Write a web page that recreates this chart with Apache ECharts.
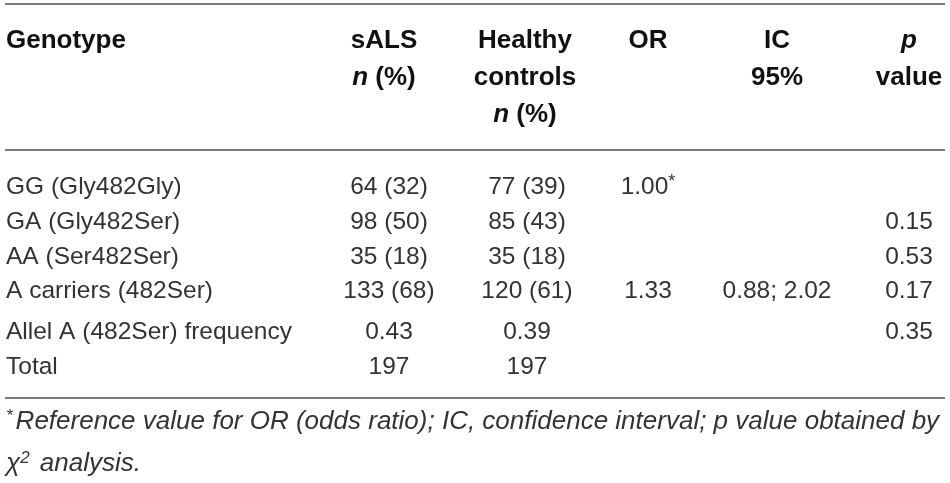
<!DOCTYPE html>
<html>
<head>
<meta charset="utf-8">
<script src="https://cdn.jsdelivr.net/npm/echarts@6/dist/echarts.min.js"></script>
<style>
  html, body { margin: 0; padding: 0; background: #fff; }
  #main { width: 950px; height: 483px; }
</style>
</head>
<body>
<div id="main"></div>
<script>
/**表格数据 */
const headers = [
  ['Genotype'],
  ['sALS', '{bi|n} (%)'],
  ['Healthy', 'controls', '{bi|n} (%)'],
  ['OR'],
  ['IC', '95%'],
  ['{bi|p}', 'value']
];
const genotypes = ['GG (Gly482Gly)', 'GA (Gly482Ser)', 'AA (Ser482Ser)', 'A carriers (482Ser)', 'Allel A (482Ser) frequency', 'Total'];
const salsValues = ['64 (32)', '98 (50)', '35 (18)', '133 (68)', '0.43', '197'];
const controlValues = ['77 (39)', '85 (43)', '35 (18)', '120 (61)', '0.39', '197'];
const orValues = ['1.00{sup|*}', '', '', '1.33', '', ''];
const icValues = ['', '', '', '0.88; 2.02', '', ''];
const pValues = ['', '0.15', '0.53', '0.17', '0.35', ''];
const footnotes = [
  '{sup|*}Reference value for OR (odds ratio); IC, confidence interval; p value obtained by',
  '\u03c7{sup|2} analysis.'
];

/**布局 */
const FONT = '"Liberation Sans", Arial, sans-serif';
const headX = [6, 384, 525, 648, 777, 909];  // 表头对齐位置
const colX = [6, 389, 527, 648, 777, 909];   // 表体对齐位置
const colAlign = ['left', 'center', 'center', 'center', 'center', 'center'];
const headY = [41, 78, 115];
const rowY = [187, 222, 257, 291, 332, 367];
const ruleY = [4, 150, 398];
const noteY = [422, 464];

let myChart = echarts.init(document.getElementById('main'), null, {renderer: 'canvas'});

const bodyRich = {
  sup: { fontSize: 18, fontFamily: FONT, fill: '#333', padding: [0, 0, 9, 0] }
};
const headRich = {
  bi: { fontSize: 26, fontWeight: 'bold', fontStyle: 'italic', fontFamily: FONT, fill: '#111' }
};

let graphic = [];

// 横线
ruleY.forEach(y => {
  graphic.push({
    type: 'line',
    shape: { x1: 5, y1: y, x2: 945, y2: y },
    style: { stroke: '#7b7b7b', lineWidth: 2 }
  });
});

// 表头
headers.forEach((lines, c) => {
  lines.forEach((txt, r) => {
    graphic.push({
      type: 'text',
      x: headX[c],
      y: headY[r],
      style: {
        text: txt,
        fontSize: 26,
        fontWeight: 'bold',
        fontFamily: FONT,
        fill: '#111',
        align: colAlign[c],
        verticalAlign: 'middle',
        rich: headRich
      }
    });
  });
});

// 表体
const columns = [genotypes, salsValues, controlValues, orValues, icValues, pValues];
columns.forEach((col, c) => {
  col.forEach((txt, r) => {
    if (!txt) return;
    graphic.push({
      type: 'text',
      x: colX[c],
      y: rowY[r],
      style: {
        text: txt,
        fontSize: 24.5,
        fontFamily: FONT,
        fill: '#333',
        align: colAlign[c],
        verticalAlign: 'middle',
        rich: bodyRich
      }
    });
  });
});

// 脚注
footnotes.forEach((txt, i) => {
  graphic.push({
    type: 'text',
    x: 6,
    y: noteY[i],
    style: {
      text: txt,
      fontSize: 26,
      fontStyle: 'italic',
      fontFamily: FONT,
      fill: '#333',
      align: 'left',
      verticalAlign: 'middle',
      rich: {
        sup: { fontSize: 17, fontStyle: 'italic', fontFamily: FONT, fill: '#333', padding: [0, 3, 11, 0] }
      }
    }
  });
});

myChart.setOption({
  backgroundColor: '#fff',
  animation: false,
  graphic: graphic
});
</script>
</body>
</html>
